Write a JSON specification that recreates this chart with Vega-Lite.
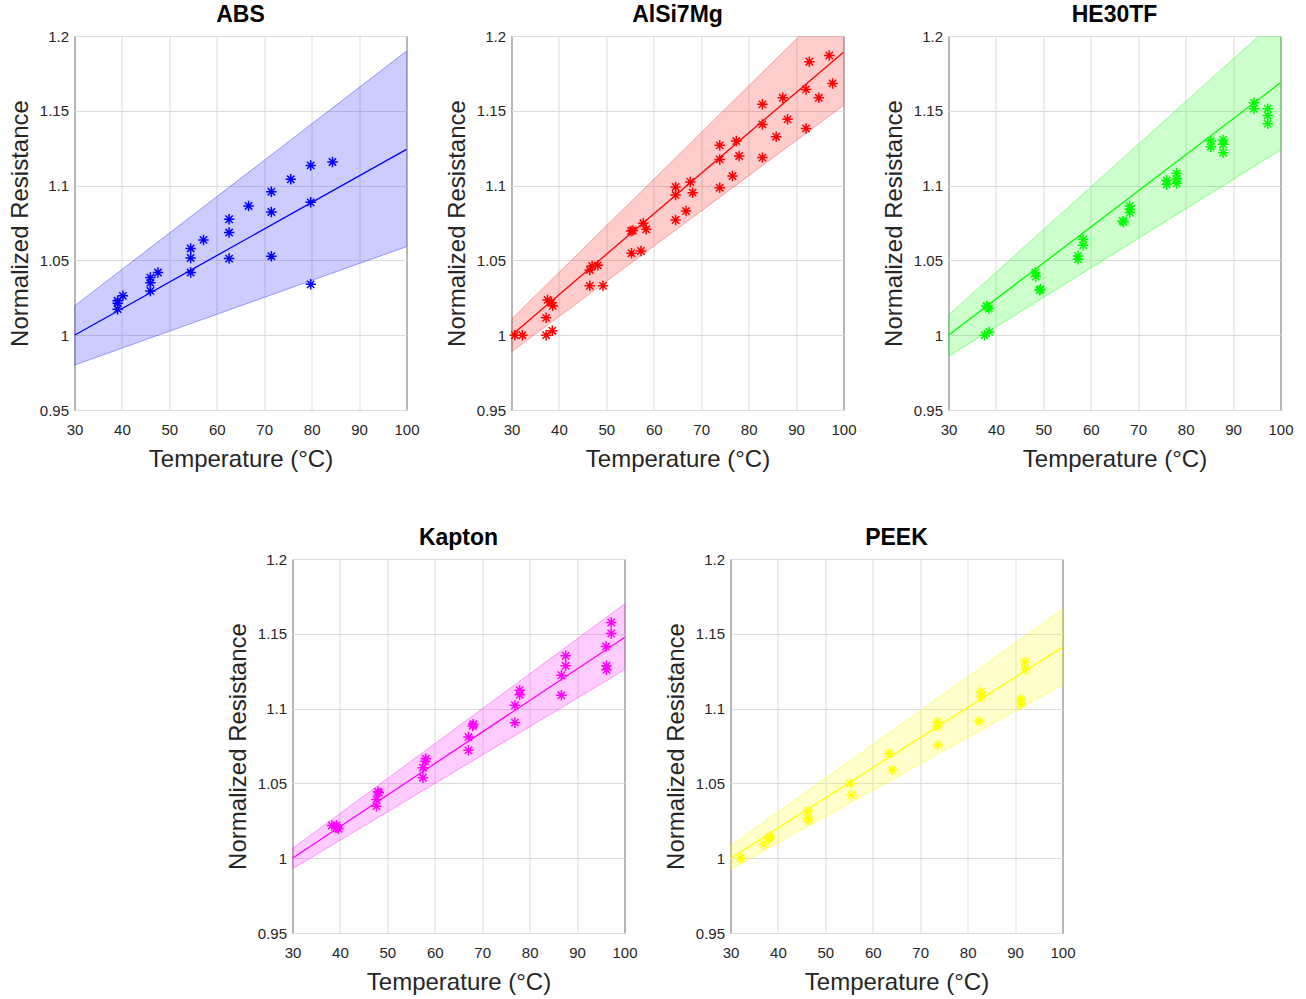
{
  "$schema": "https://vega.github.io/schema/vega-lite/v6.json",
  "background": "white",
  "padding": {"left": 7, "top": 3, "right": 3, "bottom": 5},
  "datasets": {
    "pts": [
      {"m":"ABS","T":39.1,"R":1.0174},{"m":"ABS","T":39.1,"R":1.0214},{"m":"ABS","T":39.1,"R":1.023},{"m":"ABS","T":40.2,"R":1.0263},
      {"m":"ABS","T":46.0,"R":1.0385},{"m":"ABS","T":46.0,"R":1.035},{"m":"ABS","T":46.0,"R":1.0296},{"m":"ABS","T":47.6,"R":1.0419},
      {"m":"ABS","T":54.5,"R":1.058},{"m":"ABS","T":54.5,"R":1.0516},{"m":"ABS","T":54.5,"R":1.0419},{"m":"ABS","T":57.2,"R":1.0637},
      {"m":"ABS","T":62.6,"R":1.0775},{"m":"ABS","T":62.6,"R":1.0686},{"m":"ABS","T":62.6,"R":1.0512},{"m":"ABS","T":66.7,"R":1.0864},
      {"m":"ABS","T":71.5,"R":1.0959},{"m":"ABS","T":71.5,"R":1.0824},{"m":"ABS","T":71.5,"R":1.0528},{"m":"ABS","T":75.6,"R":1.1042},
      {"m":"ABS","T":79.8,"R":1.1135},{"m":"ABS","T":79.8,"R":1.0888},{"m":"ABS","T":79.8,"R":1.034},{"m":"ABS","T":84.4,"R":1.1158},

      {"m":"AlSi7Mg","T":30.7,"R":1.0},{"m":"AlSi7Mg","T":32.3,"R":1.0},{"m":"AlSi7Mg","T":37.3,"R":1.0},{"m":"AlSi7Mg","T":38.6,"R":1.003},
      {"m":"AlSi7Mg","T":37.3,"R":1.0116},{"m":"AlSi7Mg","T":37.6,"R":1.0236},{"m":"AlSi7Mg","T":38.4,"R":1.0218},{"m":"AlSi7Mg","T":38.7,"R":1.0196},
      {"m":"AlSi7Mg","T":46.5,"R":1.0436},{"m":"AlSi7Mg","T":47.0,"R":1.0463},{"m":"AlSi7Mg","T":48.2,"R":1.0467},{"m":"AlSi7Mg","T":46.5,"R":1.033},
      {"m":"AlSi7Mg","T":49.3,"R":1.033},{"m":"AlSi7Mg","T":55.2,"R":1.0697},{"m":"AlSi7Mg","T":55.6,"R":1.07},{"m":"AlSi7Mg","T":57.8,"R":1.0748},
      {"m":"AlSi7Mg","T":58.4,"R":1.0708},{"m":"AlSi7Mg","T":55.3,"R":1.0548},{"m":"AlSi7Mg","T":57.3,"R":1.0563},{"m":"AlSi7Mg","T":64.6,"R":1.0991},
      {"m":"AlSi7Mg","T":64.6,"R":1.0937},{"m":"AlSi7Mg","T":67.7,"R":1.1024},{"m":"AlSi7Mg","T":68.2,"R":1.0953},{"m":"AlSi7Mg","T":64.6,"R":1.077},
      {"m":"AlSi7Mg","T":66.8,"R":1.083},{"m":"AlSi7Mg","T":73.9,"R":1.1269},{"m":"AlSi7Mg","T":73.9,"R":1.1175},{"m":"AlSi7Mg","T":73.9,"R":1.0986},
      {"m":"AlSi7Mg","T":77.4,"R":1.1298},{"m":"AlSi7Mg","T":78.0,"R":1.1198},{"m":"AlSi7Mg","T":76.6,"R":1.1064},{"m":"AlSi7Mg","T":82.9,"R":1.1543},
      {"m":"AlSi7Mg","T":82.9,"R":1.1409},{"m":"AlSi7Mg","T":82.9,"R":1.1187},{"m":"AlSi7Mg","T":85.8,"R":1.1327},{"m":"AlSi7Mg","T":87.2,"R":1.1587},
      {"m":"AlSi7Mg","T":88.2,"R":1.1443},{"m":"AlSi7Mg","T":92.1,"R":1.1643},{"m":"AlSi7Mg","T":92.1,"R":1.1382},{"m":"AlSi7Mg","T":92.8,"R":1.1828},
      {"m":"AlSi7Mg","T":94.8,"R":1.1587},{"m":"AlSi7Mg","T":97.0,"R":1.187},{"m":"AlSi7Mg","T":97.7,"R":1.1683},

      {"m":"HE30TF","T":37.6,"R":1.0},{"m":"HE30TF","T":38.6,"R":1.0022},{"m":"HE30TF","T":38.0,"R":1.0196},{"m":"HE30TF","T":38.5,"R":1.0178},
      {"m":"HE30TF","T":38.2,"R":1.019},{"m":"HE30TF","T":48.3,"R":1.0419},{"m":"HE30TF","T":48.4,"R":1.0392},{"m":"HE30TF","T":49.4,"R":1.0307},
      {"m":"HE30TF","T":49.2,"R":1.03},{"m":"HE30TF","T":57.3,"R":1.053},{"m":"HE30TF","T":57.3,"R":1.0508},{"m":"HE30TF","T":58.4,"R":1.0641},
      {"m":"HE30TF","T":58.4,"R":1.0601},{"m":"HE30TF","T":66.7,"R":1.0764},{"m":"HE30TF","T":66.9,"R":1.0757},{"m":"HE30TF","T":68.2,"R":1.0864},
      {"m":"HE30TF","T":68.2,"R":1.082},{"m":"HE30TF","T":68.2,"R":1.0842},{"m":"HE30TF","T":76.0,"R":1.1035},{"m":"HE30TF","T":76.0,"R":1.1008},
      {"m":"HE30TF","T":78.1,"R":1.1082},{"m":"HE30TF","T":78.1,"R":1.1046},{"m":"HE30TF","T":78.1,"R":1.1015},{"m":"HE30TF","T":85.3,"R":1.1298},
      {"m":"HE30TF","T":85.3,"R":1.126},{"m":"HE30TF","T":87.9,"R":1.1305},{"m":"HE30TF","T":87.9,"R":1.1276},{"m":"HE30TF","T":87.9,"R":1.122},
      {"m":"HE30TF","T":94.4,"R":1.1554},{"m":"HE30TF","T":94.4,"R":1.1514},{"m":"HE30TF","T":97.3,"R":1.1514},{"m":"HE30TF","T":97.3,"R":1.1469},
      {"m":"HE30TF","T":97.3,"R":1.1414},

      {"m":"Kapton","T":38.3,"R":1.0219},{"m":"Kapton","T":39.3,"R":1.0219},{"m":"Kapton","T":39.7,"R":1.0196},{"m":"Kapton","T":39.4,"R":1.0203},
      {"m":"Kapton","T":47.7,"R":1.0348},{"m":"Kapton","T":47.7,"R":1.0393},{"m":"Kapton","T":48.2,"R":1.0438},{"m":"Kapton","T":48.0,"R":1.0444},
      {"m":"Kapton","T":57.5,"R":1.0538},{"m":"Kapton","T":57.5,"R":1.0605},{"m":"Kapton","T":58.1,"R":1.0665},{"m":"Kapton","T":58.0,"R":1.0648},
      {"m":"Kapton","T":67.1,"R":1.0721},{"m":"Kapton","T":67.1,"R":1.081},{"m":"Kapton","T":68.1,"R":1.0895},{"m":"Kapton","T":68.0,"R":1.0884},
      {"m":"Kapton","T":76.9,"R":1.0906},{"m":"Kapton","T":76.9,"R":1.1022},{"m":"Kapton","T":77.9,"R":1.1092},{"m":"Kapton","T":77.9,"R":1.1123},
      {"m":"Kapton","T":86.7,"R":1.1089},{"m":"Kapton","T":86.7,"R":1.1223},{"m":"Kapton","T":87.6,"R":1.1286},{"m":"Kapton","T":87.6,"R":1.1353},
      {"m":"Kapton","T":96.2,"R":1.1259},{"m":"Kapton","T":96.2,"R":1.1286},{"m":"Kapton","T":96.1,"R":1.1415},{"m":"Kapton","T":97.2,"R":1.1502},
      {"m":"Kapton","T":97.2,"R":1.1576},

      {"m":"PEEK","T":32.1,"R":1.0},{"m":"PEEK","T":37.0,"R":1.0093},{"m":"PEEK","T":38.4,"R":1.0144},{"m":"PEEK","T":38.1,"R":1.0133},
      {"m":"PEEK","T":46.3,"R":1.0316},{"m":"PEEK","T":46.5,"R":1.0256},{"m":"PEEK","T":46.2,"R":1.0267},{"m":"PEEK","T":55.2,"R":1.05},
      {"m":"PEEK","T":55.5,"R":1.0422},{"m":"PEEK","T":63.4,"R":1.07},{"m":"PEEK","T":64.1,"R":1.0589},{"m":"PEEK","T":73.6,"R":1.0911},
      {"m":"PEEK","T":73.6,"R":1.0878},{"m":"PEEK","T":73.7,"R":1.0756},{"m":"PEEK","T":82.8,"R":1.1111},{"m":"PEEK","T":82.8,"R":1.1078},
      {"m":"PEEK","T":82.4,"R":1.0915},{"m":"PEEK","T":91.2,"R":1.1062},{"m":"PEEK","T":91.2,"R":1.1031},{"m":"PEEK","T":92.1,"R":1.1311},
      {"m":"PEEK","T":92.1,"R":1.1262}
    ],
    "fits": [
      {"m":"ABS","T":30,"fit":1.0,"lo":0.98,"hi":1.0196},{"m":"ABS","T":100,"fit":1.1242,"lo":1.0592,"hi":1.1899},
      {"m":"AlSi7Mg","T":30,"fit":1.0,"lo":0.9889,"hi":1.0107},{"m":"AlSi7Mg","T":100,"fit":1.1892,"lo":1.1536,"hi":1.229},
      {"m":"HE30TF","T":30,"fit":1.0,"lo":0.9858,"hi":1.0134},{"m":"HE30TF","T":100,"fit":1.1687,"lo":1.1238,"hi":1.2131},
      {"m":"Kapton","T":30,"fit":1.0,"lo":0.9929,"hi":1.0065},{"m":"Kapton","T":100,"fit":1.1475,"lo":1.1259,"hi":1.1699},
      {"m":"PEEK","T":30,"fit":1.0,"lo":0.9927,"hi":1.0082},{"m":"PEEK","T":100,"fit":1.1411,"lo":1.116,"hi":1.1662}
    ]
  },
  "config": {
    "font": "Liberation Sans",
    "view": {"stroke": "#262626", "strokeWidth": 1},
    "title": {"fontSize": 23, "fontWeight": "bold", "color": "#000000", "offset": 2, "font": "Liberation Sans"},
    "axis": {
      "labelFontSize": 15, "labelColor": "#262626", "titleFontSize": 24, "titleFontWeight": "normal",
      "titleColor": "#262626", "grid": true, "gridColor": "#dcdcdc", "domain": false, "ticks": false,
      "labelFlush": false, "labelPadding": 6
    },
    "axisX": {"titlePadding": 10, "labelPadding": 12},
    "axisY": {"titlePadding": 7},
    "concat": {"spacing": 24}
  },
  "vconcat": [
    {
      "hconcat": [
        {
          "width": 332, "height": 374, "title": "ABS",
          "layer": [
            {"data": {"name": "fits"}, "transform": [{"filter": "datum.m==='ABS'"}],
             "mark": {"type": "area", "color": "#0000ff", "fillOpacity": 0.2, "stroke": "#0000ff", "strokeOpacity": 0.35, "strokeWidth": 1, "clip": true},
             "encoding": {"x": {"field": "T", "type": "quantitative", "scale": {"domain": [30, 100], "nice": false}, "axis": {"values": [30,40,50,60,70,80,90,100]}, "title": "Temperature (°C)"},
                          "y": {"field": "lo", "type": "quantitative", "scale": {"domain": [0.95, 1.2], "nice": false}, "axis": {"values": [0.95,1,1.05,1.1,1.15,1.2], "format": ".2~f"}, "title": "Normalized Resistance"},
                          "y2": {"field": "hi"}}},
            {"data": {"name": "fits"}, "transform": [{"filter": "datum.m==='ABS'"}],
             "mark": {"type": "line", "color": "#0000ff", "strokeWidth": 1.3, "clip": true},
             "encoding": {"x": {"field": "T", "type": "quantitative", "title": "Temperature (°C)"}, "y": {"field": "fit", "type": "quantitative", "title": "Normalized Resistance"}}},
            {"data": {"name": "pts"}, "transform": [{"filter": "datum.m==='ABS'"}],
             "mark": {"type": "point", "shape": "M-1,0L1,0M0,-1L0,1M-0.7,-0.7L0.7,0.7M-0.7,0.7L0.7,-0.7", "color": "#0000ff", "filled": false, "size": 110, "strokeWidth": 1.5, "opacity": 1},
             "encoding": {"x": {"field": "T", "type": "quantitative", "title": "Temperature (°C)"}, "y": {"field": "R", "type": "quantitative", "title": "Normalized Resistance"}}}
          ]
        },
        {
          "width": 332, "height": 374, "title": "AlSi7Mg",
          "layer": [
            {"data": {"name": "fits"}, "transform": [{"filter": "datum.m==='AlSi7Mg'"}],
             "mark": {"type": "area", "color": "#ff0000", "fillOpacity": 0.2, "stroke": "#ff0000", "strokeOpacity": 0.3, "strokeWidth": 1, "clip": true},
             "encoding": {"x": {"field": "T", "type": "quantitative", "scale": {"domain": [30, 100], "nice": false}, "axis": {"values": [30,40,50,60,70,80,90,100]}, "title": "Temperature (°C)"},
                          "y": {"field": "lo", "type": "quantitative", "scale": {"domain": [0.95, 1.2], "nice": false}, "axis": {"values": [0.95,1,1.05,1.1,1.15,1.2], "format": ".2~f"}, "title": "Normalized Resistance"},
                          "y2": {"field": "hi"}}},
            {"data": {"name": "fits"}, "transform": [{"filter": "datum.m==='AlSi7Mg'"}],
             "mark": {"type": "line", "color": "#ff0000", "strokeWidth": 1.3, "clip": true},
             "encoding": {"x": {"field": "T", "type": "quantitative", "title": "Temperature (°C)"}, "y": {"field": "fit", "type": "quantitative", "title": "Normalized Resistance"}}},
            {"data": {"name": "pts"}, "transform": [{"filter": "datum.m==='AlSi7Mg'"}],
             "mark": {"type": "point", "shape": "M-1,0L1,0M0,-1L0,1M-0.7,-0.7L0.7,0.7M-0.7,0.7L0.7,-0.7", "color": "#ff0000", "filled": false, "size": 110, "strokeWidth": 1.5, "opacity": 1},
             "encoding": {"x": {"field": "T", "type": "quantitative", "title": "Temperature (°C)"}, "y": {"field": "R", "type": "quantitative", "title": "Normalized Resistance"}}}
          ]
        },
        {
          "width": 332, "height": 374, "title": "HE30TF",
          "layer": [
            {"data": {"name": "fits"}, "transform": [{"filter": "datum.m==='HE30TF'"}],
             "mark": {"type": "area", "color": "#00ff00", "fillOpacity": 0.2, "stroke": "#00ff00", "strokeOpacity": 0.4, "strokeWidth": 1, "clip": true},
             "encoding": {"x": {"field": "T", "type": "quantitative", "scale": {"domain": [30, 100], "nice": false}, "axis": {"values": [30,40,50,60,70,80,90,100]}, "title": "Temperature (°C)"},
                          "y": {"field": "lo", "type": "quantitative", "scale": {"domain": [0.95, 1.2], "nice": false}, "axis": {"values": [0.95,1,1.05,1.1,1.15,1.2], "format": ".2~f"}, "title": "Normalized Resistance"},
                          "y2": {"field": "hi"}}},
            {"data": {"name": "fits"}, "transform": [{"filter": "datum.m==='HE30TF'"}],
             "mark": {"type": "line", "color": "#00ff00", "strokeWidth": 1.3, "clip": true},
             "encoding": {"x": {"field": "T", "type": "quantitative", "title": "Temperature (°C)"}, "y": {"field": "fit", "type": "quantitative", "title": "Normalized Resistance"}}},
            {"data": {"name": "pts"}, "transform": [{"filter": "datum.m==='HE30TF'"}],
             "mark": {"type": "point", "shape": "M-1,0L1,0M0,-1L0,1M-0.7,-0.7L0.7,0.7M-0.7,0.7L0.7,-0.7", "color": "#00ff00", "filled": false, "size": 110, "strokeWidth": 1.5, "opacity": 1},
             "encoding": {"x": {"field": "T", "type": "quantitative", "title": "Temperature (°C)"}, "y": {"field": "R", "type": "quantitative", "title": "Normalized Resistance"}}}
          ]
        }
      ]
    },
    {
      "spacing": 25,
      "hconcat": [
        {
          "width": 332, "height": 374, "title": "Kapton",
          "layer": [
            {"data": {"name": "fits"}, "transform": [{"filter": "datum.m==='Kapton'"}],
             "mark": {"type": "area", "color": "#ff00ff", "fillOpacity": 0.2, "stroke": "#ff00ff", "strokeOpacity": 0.35, "strokeWidth": 1, "clip": true},
             "encoding": {"x": {"field": "T", "type": "quantitative", "scale": {"domain": [30, 100], "nice": false}, "axis": {"values": [30,40,50,60,70,80,90,100]}, "title": "Temperature (°C)"},
                          "y": {"field": "lo", "type": "quantitative", "scale": {"domain": [0.95, 1.2], "nice": false}, "axis": {"values": [0.95,1,1.05,1.1,1.15,1.2], "format": ".2~f"}, "title": "Normalized Resistance"},
                          "y2": {"field": "hi"}}},
            {"data": {"name": "fits"}, "transform": [{"filter": "datum.m==='Kapton'"}],
             "mark": {"type": "line", "color": "#ff00ff", "strokeWidth": 1.3, "clip": true},
             "encoding": {"x": {"field": "T", "type": "quantitative", "title": "Temperature (°C)"}, "y": {"field": "fit", "type": "quantitative", "title": "Normalized Resistance"}}},
            {"data": {"name": "pts"}, "transform": [{"filter": "datum.m==='Kapton'"}],
             "mark": {"type": "point", "shape": "M-1,0L1,0M0,-1L0,1M-0.7,-0.7L0.7,0.7M-0.7,0.7L0.7,-0.7", "color": "#ff00ff", "filled": false, "size": 110, "strokeWidth": 1.5, "opacity": 1},
             "encoding": {"x": {"field": "T", "type": "quantitative", "title": "Temperature (°C)"}, "y": {"field": "R", "type": "quantitative", "title": "Normalized Resistance"}}}
          ]
        },
        {
          "width": 332, "height": 374, "title": "PEEK",
          "layer": [
            {"data": {"name": "fits"}, "transform": [{"filter": "datum.m==='PEEK'"}],
             "mark": {"type": "area", "color": "#ffff00", "fillOpacity": 0.2, "stroke": "#ffff00", "strokeOpacity": 0.5, "strokeWidth": 1, "clip": true},
             "encoding": {"x": {"field": "T", "type": "quantitative", "scale": {"domain": [30, 100], "nice": false}, "axis": {"values": [30,40,50,60,70,80,90,100]}, "title": "Temperature (°C)"},
                          "y": {"field": "lo", "type": "quantitative", "scale": {"domain": [0.95, 1.2], "nice": false}, "axis": {"values": [0.95,1,1.05,1.1,1.15,1.2], "format": ".2~f"}, "title": "Normalized Resistance"},
                          "y2": {"field": "hi"}}},
            {"data": {"name": "fits"}, "transform": [{"filter": "datum.m==='PEEK'"}],
             "mark": {"type": "line", "color": "#ffff00", "strokeWidth": 1.3, "clip": true},
             "encoding": {"x": {"field": "T", "type": "quantitative", "title": "Temperature (°C)"}, "y": {"field": "fit", "type": "quantitative", "title": "Normalized Resistance"}}},
            {"data": {"name": "pts"}, "transform": [{"filter": "datum.m==='PEEK'"}],
             "mark": {"type": "point", "shape": "M-1,0L1,0M0,-1L0,1M-0.7,-0.7L0.7,0.7M-0.7,0.7L0.7,-0.7", "color": "#ffff00", "filled": false, "size": 110, "strokeWidth": 1.5, "opacity": 1},
             "encoding": {"x": {"field": "T", "type": "quantitative", "title": "Temperature (°C)"}, "y": {"field": "R", "type": "quantitative", "title": "Normalized Resistance"}}}
          ]
        }
      ]
    }
  ],
  "center": true,
  "spacing": 54
}
